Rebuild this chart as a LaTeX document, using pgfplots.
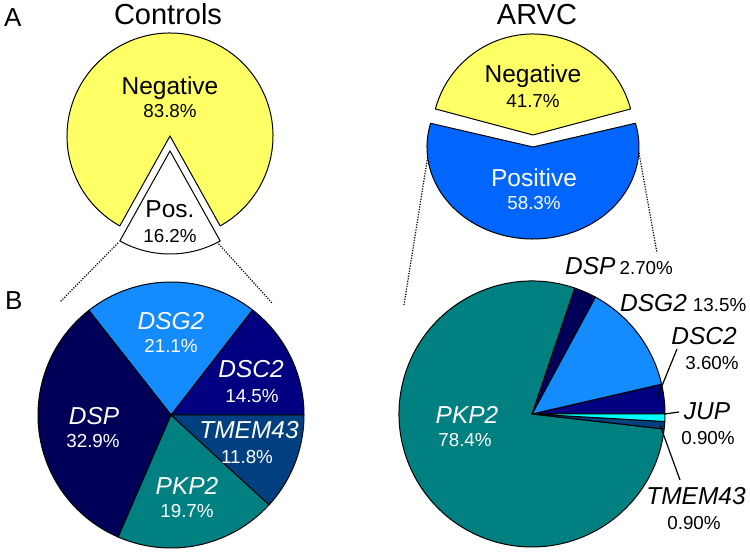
\documentclass[border=0pt]{standalone}
\usepackage{pgfplots}
\pgfplotsset{compat=1.18}
\usepackage{fontspec}
\setmainfont{Liberation Sans}
\definecolor{yel}{RGB}{255,255,102}
\definecolor{posblue}{RGB}{0,102,255}
\definecolor{dspc}{RGB}{0,0,88}
\definecolor{dscc}{RGB}{0,0,128}
\definecolor{dsgc}{RGB}{20,140,255}
\definecolor{tmemc}{RGB}{0,64,128}
\definecolor{pkpc}{RGB}{0,128,128}
\definecolor{jupc}{RGB}{0,255,255}
\newcommand\lab{\fontsize{24.5}{28}\selectfont}
\newcommand\pct{\fontsize{18.8}{22}\selectfont}
\newcommand\ttl{\fontsize{29}{33}\selectfont}
% #1 cx, #2 cy, #3 rx, #4 ry, #5 start angle, #6 list pct/colour/explode
\newcommand\pie[6]{%
  \pgfmathsetmacro\pieinit{#5}%
  \foreach \p/\c/\x [remember=\e as \s (initially \pieinit)] in {#6}{%
    \pgfmathsetmacro\e{\s+3.6*\p}%
    \pgfmathsetmacro\m{(\s+\e)/2}%
    \edef\doit{\noexpand\filldraw[fill=\c,draw=black,line width=1pt,line join=round]
      ([shift={(\m:\x pt)}]axis cs:#1,#2) -- ++(\s:#3pt and #4pt)
      arc[start angle=\s,end angle=\e,x radius=#3pt,y radius=#4pt] -- cycle;}%
    \doit
  }%
}
\begin{document}
\begin{tikzpicture}
\begin{axis}[
  width=750pt, height=553pt, scale only axis,
  xmin=0, xmax=750, ymin=0, ymax=553,
  enlargelimits=false, hide axis, clip=false]
\path (axis cs:0,0) coordinate (BL) (axis cs:750,553) coordinate (TR);
% dotted connectors
\draw[line width=1.2pt, dash pattern=on 1.2pt off 1.4pt] (axis cs:118,310) -- (axis cs:60,251);
\draw[line width=1.2pt, dash pattern=on 1.2pt off 1.4pt] (axis cs:217,311) -- (axis cs:272,250);
\draw[line width=1.2pt, dash pattern=on 1.2pt off 1.4pt] (axis cs:428,398) -- (axis cs:404,248);
\draw[line width=1.2pt, dash pattern=on 1.2pt off 1.4pt] (axis cs:639,400) -- (axis cs:657,300);
% Controls, top
\pie{170}{417}{103}{103}{90-83.8*1.8}{83.8/yel/0,16.2/white/15}
% ARVC, top
\pie{533}{418}{101}{101}{90-41.7*1.8}{41.7/yel/0}
\pie{533}{406}{106}{92}{90+41.7*1.8}{58.3/posblue/0}
% Controls, genes
\pie{171}{138}{133}{133}{0}{14.5/dscc/0,21.1/dsgc/0,32.9/dspc/0,19.7/pkpc/0,11.8/tmemc/0}
% ARVC, genes
\pie{532}{139}{133}{133}{0}{3.6/dscc/0,13.5/dsgc/0,2.7/dspc/0,78.4/pkpc/0,0.9/tmemc/0,0.9/jupc/0}
% leader lines
\draw[line width=1.2pt] (axis cs:657,155) -- (axis cs:677,204);
\draw[line width=1.2pt] (axis cs:665,139) -- (axis cs:679,141);
\draw[line width=1.2pt] (axis cs:660,128) -- (axis cs:680,73);
% titles
\tikzset{every node/.style={inner sep=0pt, anchor=base}}
\node at (axis cs:168,528) {\ttl Controls};
\node at (axis cs:537,528) {\ttl ARVC};
\node[anchor=base west] at (axis cs:4,526) {\fontsize{26}{30}\selectfont A};
\node[anchor=base west] at (axis cs:5,243) {\fontsize{26}{30}\selectfont B};
% top labels
\node at (axis cs:170,458) {\lab Negative};
\node at (axis cs:170,435) {\pct 83.8\%};
\node at (axis cs:170,335) {\lab Pos.};
\node at (axis cs:170,310) {\pct 16.2\%};
\node at (axis cs:533,470) {\lab Negative};
\node at (axis cs:533,445) {\pct 41.7\%};
\node[text=white] at (axis cs:534,366) {\lab Positive};
\node[text=white] at (axis cs:534,343) {\pct 58.3\%};
% controls gene labels
\node[text=white] at (axis cs:171,223) {\lab\itshape DSG2};
\node[text=white] at (axis cs:171,200) {\pct 21.1\%};
\node[text=white] at (axis cs:251,175) {\lab\itshape DSC2};
\node[text=white] at (axis cs:252,150) {\pct 14.5\%};
\node[text=white] at (axis cs:94,128) {\lab\itshape DSP};
\node[text=white] at (axis cs:93,105) {\pct 32.9\%};
\node[text=white] at (axis cs:249,114) {\lab\itshape TMEM43};
\node[text=white] at (axis cs:247,89) {\pct 11.8\%};
\node[text=white] at (axis cs:187,58) {\lab\itshape PKP2};
\node[text=white] at (axis cs:187,35) {\pct 19.7\%};
% ARVC gene labels
\node[text=white] at (axis cs:467,129) {\lab\itshape PKP2};
\node[text=white] at (axis cs:465,106) {\pct 78.4\%};
\node[anchor=base west] at (axis cs:565,278) {\lab\itshape DSP\hspace{4pt}\upshape\pct 2.70\%};
\node[anchor=base west] at (axis cs:620,241) {\lab\itshape DSG2\hspace{6pt}\upshape\pct 13.5\%};
\node at (axis cs:704,208) {\lab\itshape DSC2};
\node at (axis cs:712,183) {\pct 3.60\%};
\node at (axis cs:707,133) {\lab\itshape JUP};
\node at (axis cs:708,108) {\pct 0.90\%};
\node at (axis cs:696,48) {\lab\itshape TMEM43};
\node at (axis cs:694,23) {\pct 0.90\%};
\end{axis}
\pgfresetboundingbox
\path (BL) rectangle (TR);
\end{tikzpicture}
\end{document}
